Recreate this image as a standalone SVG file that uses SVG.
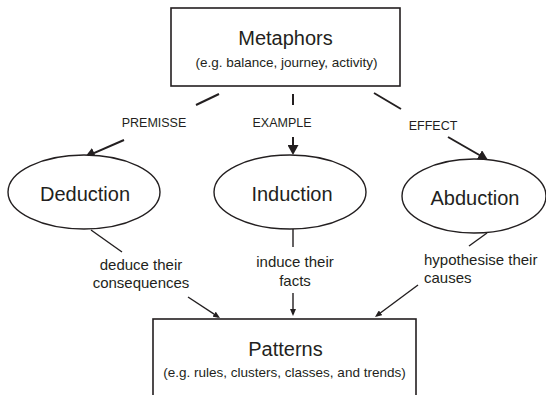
<svg xmlns="http://www.w3.org/2000/svg" width="546" height="395" viewBox="0 0 546 395">
  <style>
    text { font-family: "Liberation Sans", Arial, sans-serif; fill: #231f20; }
    .title { font-size: 20px; text-anchor: middle; }
    .sub { font-size: 13.5px; text-anchor: middle; }
    .rel { font-size: 12.5px; text-anchor: middle; }
    .note { font-size: 15px; text-anchor: middle; }
    .box { fill: #ffffff; stroke: #231f20; stroke-width: 1.6; }
    .oval { fill: #ffffff; stroke: #231f20; stroke-width: 1.4; }
    .thick { fill: none; stroke: #231f20; stroke-width: 2; }
    .thin { fill: none; stroke: #231f20; stroke-width: 1.4; }
  </style>
  <defs>
    <marker id="bigHead" viewBox="0 0 10 11" refX="6" refY="5.5" markerWidth="10" markerHeight="11" markerUnits="userSpaceOnUse" orient="auto">
      <path d="M0,0 L10,5.5 L0,11 z" fill="#231f20"/>
    </marker>
    <marker id="smallHead" viewBox="0 0 7 6" refX="5" refY="3" markerWidth="7" markerHeight="6" markerUnits="userSpaceOnUse" orient="auto">
      <path d="M0,0 L7,3 L0,6 z" fill="#231f20"/>
    </marker>
  </defs>

  <g id="connectors">
    <!-- Metaphors to the three reasoning modes -->
    <line class="thick" x1="219" y1="94" x2="196" y2="105"/>
    <line class="thick" x1="124" y1="140" x2="88.7" y2="155.4" marker-end="url(#bigHead)"/>
    <line class="thick" x1="293" y1="94" x2="293" y2="105"/>
    <line class="thick" x1="293" y1="137" x2="293" y2="151" marker-end="url(#bigHead)"/>
    <line class="thick" x1="374" y1="93" x2="401" y2="109"/>
    <line class="thick" x1="448" y1="137" x2="484.5" y2="158" marker-end="url(#bigHead)"/>
    <!-- reasoning modes to Patterns -->
    <line class="thin" x1="91" y1="230" x2="122" y2="252"/>
    <line class="thin" x1="188" y1="297" x2="218.3" y2="316.9" marker-end="url(#smallHead)"/>
    <line class="thin" x1="293" y1="229" x2="293" y2="247"/>
    <line class="thin" x1="293" y1="293" x2="293" y2="314" marker-end="url(#smallHead)"/>
    <line class="thin" x1="487" y1="233" x2="469" y2="246"/>
    <line class="thin" x1="418" y1="285" x2="376.6" y2="315.8" marker-end="url(#smallHead)"/>
    <!-- connector labels -->
    <text class="rel" x="154" y="127">PREMISSE</text>
    <text class="rel" x="282" y="127">EXAMPLE</text>
    <text class="rel" x="433" y="130">EFFECT</text>
    <text class="note" x="141" y="270">deduce their</text>
    <text class="note" x="141" y="288">consequences</text>
    <text class="note" x="295" y="267">induce their</text>
    <text class="note" x="295" y="286">facts</text>
    <text class="note" x="424" y="265" style="text-anchor:start">hypothesise their</text>
    <text class="note" x="424" y="283" style="text-anchor:start">causes</text>
  </g>

  <g id="metaphors">
    <rect class="box" x="171" y="8" width="229" height="78"/>
    <text class="title" x="285.5" y="45">Metaphors</text>
    <text class="sub" x="286.5" y="67">(e.g. balance, journey, activity)</text>
  </g>

  <g id="deduction">
    <ellipse class="oval" cx="84" cy="192" rx="76" ry="37"/>
    <text class="title" x="85" y="201">Deduction</text>
  </g>

  <g id="induction">
    <ellipse class="oval" cx="290" cy="192" rx="76" ry="37"/>
    <text class="title" x="292" y="201">Induction</text>
  </g>

  <g id="abduction">
    <ellipse class="oval" cx="474" cy="196" rx="72" ry="37"/>
    <text class="title" x="475" y="205">Abduction</text>
  </g>

  <g id="patterns">
    <rect class="box" x="153" y="319" width="263" height="90"/>
    <text class="title" x="285.5" y="356">Patterns</text>
    <text class="sub" x="284.5" y="377">(e.g. rules, clusters, classes, and trends)</text>
  </g>
</svg>
